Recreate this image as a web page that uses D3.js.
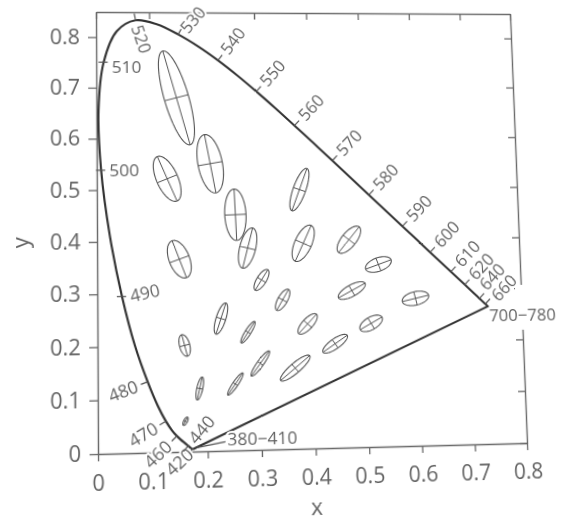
<!DOCTYPE html>
<html>
<head>
<meta charset="utf-8">
<script src="https://cdn.jsdelivr.net/npm/d3@7"></script>
<style>
  html, body { margin: 0; padding: 0; background: #fff; }
  #chart { display: block; transform-origin: 0 0; overflow: visible; }
  text { font-family: "Open Sans", "Noto Sans", sans-serif; fill: #636363; }
</style>
</head>
<body>
<svg id="chart" width="575" height="520"></svg>
<script>
// CIE 1931 2° spectral locus (chromaticity x, y by wavelength in nm)
const wavelengths = [380,385,390,395,400,405,410,415,420,425,430,435,440,445,450,455,460,465,470,475,
  480,485,490,495,500,505,510,515,520,525,530,535,540,545,550,555,560,565,570,575,580,585,590,595,
  600,605,610,615,620,625,630,635,640,645,650,655,660,665,670,675,680,690,700,780];
const locusX = [0.1741,0.1740,0.1738,0.1736,0.1733,0.1730,0.1726,0.1721,0.1714,0.1703,0.1689,0.1669,0.1644,0.1611,0.1566,0.1510,0.1440,0.1355,0.1241,0.1096,
  0.0913,0.0687,0.0454,0.0235,0.0082,0.0039,0.0139,0.0389,0.0743,0.1142,0.1547,0.1929,0.2296,0.2658,0.3016,0.3373,0.3731,0.4087,0.4441,0.4788,0.5125,0.5448,0.5752,0.6029,
  0.6270,0.6482,0.6658,0.6801,0.6915,0.7006,0.7079,0.7140,0.7190,0.7230,0.7260,0.7283,0.7300,0.7311,0.7320,0.7327,0.7334,0.7344,0.7347,0.7347];
const locusY = [0.0050,0.0050,0.0049,0.0049,0.0048,0.0048,0.0048,0.0048,0.0051,0.0058,0.0069,0.0086,0.0109,0.0138,0.0177,0.0227,0.0297,0.0399,0.0578,0.0868,
  0.1327,0.2007,0.2950,0.4127,0.5384,0.6548,0.7502,0.8120,0.8338,0.8262,0.8059,0.7816,0.7543,0.7243,0.6923,0.6589,0.6245,0.5896,0.5547,0.5202,0.4866,0.4544,0.4242,0.3965,
  0.3725,0.3514,0.3340,0.3197,0.3083,0.2993,0.2920,0.2859,0.2809,0.2770,0.2740,0.2717,0.2700,0.2689,0.2680,0.2673,0.2666,0.2656,0.2653,0.2653];

// Wavelengths marked with a tick and a label on the locus
const markedWavelengths = [420,440,460,470,480,490,500,510,520,530,540,550,560,570,580,590,600,610,620,640,660];
const markedLabels = ["420","440","460","470","480","490","500","510","520","530","540","550","560","570","580","590","600","610","620","640","660"];
const startLabel = "380−410";
const endLabel = "700−780";

// MacAdam (1942) ellipses: centre (x, y), semi-axes a, b (×10⁻³), orientation θ (deg)
const ellipseX = [0.160,0.187,0.253,0.150,0.131,0.212,0.258,0.152,0.280,0.380,0.160,0.228,0.305,0.385,0.472,0.527,0.475,0.510,0.596,0.344,0.390,0.441,0.278,0.300,0.365];
const ellipseY = [0.057,0.118,0.125,0.680,0.521,0.550,0.450,0.365,0.385,0.498,0.200,0.250,0.323,0.393,0.399,0.350,0.300,0.236,0.283,0.284,0.237,0.198,0.223,0.163,0.153];
const ellipseA = [0.85,2.2,2.5,9.6,4.7,5.8,5.0,3.8,4.0,4.4,2.1,3.1,2.3,3.8,3.2,2.6,2.9,2.4,2.6,2.3,2.5,2.8,2.4,2.9,3.6];
const ellipseB = [0.35,0.55,0.5,2.3,2.0,2.3,2.0,1.9,1.5,1.2,0.95,0.9,0.9,1.6,1.4,1.3,1.1,1.2,1.3,0.9,1.0,0.95,0.55,0.6,0.95];
const ellipseTheta = [62.5,77,55.5,105,112.5,100,92,110,75.5,70,104,72,58,65.5,51,20,28.5,29.5,13,60,47,34.5,57.5,54,40];
const ellipseMagnification = 10;

// Axis ticks
const xTicks = [0,0.1,0.2,0.3,0.4,0.5,0.6,0.7,0.8];
const yTicks = [0,0.1,0.2,0.3,0.4,0.5,0.6,0.7,0.8];
const xDomain = [0, 0.8];
const yDomain = [0, 0.85];

// ---------------------------------------------------------------------------
const L = 97, T = 13, R = 518, B = 449;
const svg = d3.select("#chart");
const x = d3.scaleLinear().domain(xDomain).range([L, R]);
const y = d3.scaleLinear().domain(yDomain).range([B, T]);

const axisColor = "#6a6a6a";
const fmt = d => d === 0 ? "0" : d.toFixed(1);

function styleAxis(g) {
  g.selectAll("path.domain").attr("stroke", axisColor).attr("stroke-width", 1.4);
  g.selectAll(".tick line").attr("stroke", axisColor).attr("stroke-width", 1.3);
  g.selectAll(".tick text").attr("font-size", 21).attr("fill", "#636363")
    .style("font-family", '"Open Sans","Noto Sans",sans-serif');
}

svg.append("g").attr("transform", `translate(0,${B})`)
  .call(d3.axisBottom(x).tickValues(xTicks).tickSize(7).tickSizeOuter(0).tickPadding(13).tickFormat(fmt))
  .call(styleAxis);
svg.append("g").attr("transform", `translate(${L},0)`)
  .call(d3.axisLeft(y).tickValues(yTicks).tickSize(8).tickSizeOuter(0).tickPadding(8).tickFormat(fmt))
  .call(styleAxis);
svg.append("g").attr("transform", `translate(0,${T})`)
  .call(d3.axisTop(x).tickValues(xTicks).tickSize(-7).tickSizeOuter(0).tickFormat(""))
  .call(styleAxis);
svg.append("g").attr("transform", `translate(${R},0)`)
  .call(d3.axisRight(y).tickValues(yTicks).tickSize(-7).tickSizeOuter(0).tickFormat(""))
  .call(styleAxis);

// axis titles
svg.append("text").attr("x", x(0.4)).attr("y", B + 64).attr("text-anchor", "middle")
  .attr("font-size", 22).text("x");
svg.append("text").attr("transform", `translate(${L - 74},${y(0.4)}) rotate(-90)`)
  .attr("text-anchor", "middle").attr("dy", "0.35em").attr("font-size", 22).text("y");

// spectral locus, closed by the line of purples
const idx = d3.range(wavelengths.length);
const locusLine = d3.line().x(i => x(locusX[i])).y(i => y(locusY[i])).curve(d3.curveCatmullRom.alpha(0.5));
svg.append("path").attr("d", locusLine(idx) + "Z")
  .attr("fill", "none").attr("stroke", "#333").attr("stroke-width", 2.1).attr("stroke-linejoin", "round");

// MacAdam ellipses with their principal axes
const eg = svg.append("g").attr("fill", "none").attr("stroke", "#555");
ellipseX.forEach((cx, k) => {
  const cy = ellipseY[k];
  const a = ellipseA[k] * 1e-3 * ellipseMagnification;
  const b = ellipseB[k] * 1e-3 * ellipseMagnification;
  const th = ellipseTheta[k] * Math.PI / 180;
  const c = Math.cos(th), s = Math.sin(th);
  const pts = d3.range(0, 360, 4).map(t => {
    const r = t * Math.PI / 180;
    return [cx + a * c * Math.cos(r) - b * s * Math.sin(r), cy + a * s * Math.cos(r) + b * c * Math.sin(r)];
  });
  eg.append("path")
    .attr("d", d3.line().x(p => x(p[0])).y(p => y(p[1])).curve(d3.curveLinearClosed)(pts))
    .attr("stroke-width", 1.1);
  eg.append("line")
    .attr("x1", x(cx - a * c)).attr("y1", y(cy - a * s))
    .attr("x2", x(cx + a * c)).attr("y2", y(cy + a * s)).attr("stroke-width", 1);
  eg.append("line")
    .attr("x1", x(cx + b * s)).attr("y1", y(cy - b * c))
    .attr("x2", x(cx - b * s)).attr("y2", y(cy + b * c)).attr("stroke-width", 1);
});

// wavelength ticks and labels
const labelStyle = {
  420: { side: "out", rotate: -42, off: 3 },
  440: { side: "in" },
  490: { side: "across", rotate: -12 },
  500: { side: "across", rotate: 0 },
  510: { side: "across", rotate: 0, shift: 5 },
  520: { side: "in", rotate: 72 },
  530: { side: "out", rotate: -50, off: 6, slide: 3 },
  640: { side: "out", slide: -5 },
  660: { side: "out", slide: 3 }
};
const tickLen = 7, gap = 3.5, labelSize = 17;
const wg = svg.append("g");
const halo = (sel, w = 4) => sel.attr("stroke", "#fff").attr("stroke-width", w)
  .attr("stroke-linejoin", "round").attr("paint-order", "stroke").attr("font-size", labelSize);

function pointAt(w) {
  const i = wavelengths.indexOf(w);
  return { i, px: x(locusX[i]), py: y(locusY[i]) };
}

markedWavelengths.forEach((w, k) => {
  const { i, px, py } = pointAt(w);
  const i0 = Math.max(0, i - 1), i1 = Math.min(wavelengths.length - 1, i + 1);
  let tx = x(locusX[i1]) - x(locusX[i0]), ty = y(locusY[i1]) - y(locusY[i0]);
  const tl = Math.hypot(tx, ty); tx /= tl; ty /= tl;
  const nx = ty, ny = -tx;                     // outward normal
  const st = labelStyle[w] || { side: "out" };
  const text = markedLabels[k];

  if (st.side === "across") {
    wg.append("line").attr("x1", px - 5).attr("y1", py).attr("x2", px + 4).attr("y2", py)
      .attr("stroke", "#555").attr("stroke-width", 1.2);
    const lx = px + 8, ly = py + (st.shift || 0);
    wg.append("text").attr("transform", `translate(${lx},${ly}) rotate(${st.rotate})`)
      .attr("dy", "0.35em").call(halo).text(text);
    return;
  }
  wg.append("line").attr("x1", px).attr("y1", py)
    .attr("x2", px + nx * tickLen).attr("y2", py + ny * tickLen)
    .attr("stroke", "#555").attr("stroke-width", 1.2);
  let dx, dy, off;
  if (st.side === "in") { dx = -nx; dy = -ny; off = gap + 2; }
  else { dx = nx; dy = ny; off = tickLen + gap; }
  if (st.off !== undefined) off = st.off;
  const slide = st.slide || 0;
  const lx = px + dx * off + tx * slide, ly = py + dy * off + ty * slide;
  let ang = Math.atan2(dy, dx) * 180 / Math.PI;
  let anchor = "start";
  if (Math.cos(ang * Math.PI / 180) < 0) { ang += 180; anchor = "end"; }
  if (st.rotate !== undefined) ang = st.rotate;
  const thin = (w >= 610);
  wg.append("text").attr("transform", `translate(${lx},${ly}) rotate(${ang})`)
    .attr("dy", "0.35em").attr("text-anchor", anchor).call(halo, thin ? 0 : 4).text(text);
});

// ends of the locus
{
  const p = pointAt(380);
  wg.append("line").attr("x1", p.px + 3).attr("y1", p.py - 1).attr("x2", p.px + 31).attr("y2", p.py - 6)
    .attr("stroke", "#555").attr("stroke-width", 1.2);
  wg.append("text").attr("x", p.px + 33).attr("y", p.py - 8).attr("dy", "0.35em")
    .call(halo).text(startLabel);
}
{
  const p = pointAt(700);
  const t = wg.append("text").attr("x", p.px + 1).attr("y", p.py + 9).attr("dy", "0.35em")
    .call(halo).text(endLabel);
  const bb = t.node().getBBox();
  // clear the frame line where the label crosses it
  wg.insert("rect", () => t.node())
    .attr("x", R - 6).attr("y", bb.y - 18).attr("width", 12).attr("height", bb.height + 22)
    .attr("fill", "#fff");
}

// page photographed slightly off-axis: project the flat chart onto that quad
(function applyPerspective() {
  const quad = [[96, 12], [510, 14], [527, 443], [98, 454]];
  const [[x0, y0], [x1, y1], [x2, y2], [x3, y3]] = quad;
  const dx1 = x1 - x2, dx2 = x3 - x2, dx3 = x0 - x1 + x2 - x3;
  const dy1 = y1 - y2, dy2 = y3 - y2, dy3 = y0 - y1 + y2 - y3;
  const den = dx1 * dy2 - dx2 * dy1;
  const g = (dx3 * dy2 - dx2 * dy3) / den;
  const h = (dx1 * dy3 - dx3 * dy1) / den;
  const a = x1 - x0 + g * x1, b = x3 - x0 + h * x3, c = x0;
  const d = y1 - y0 + g * y1, e = y3 - y0 + h * y3, f = y0;
  const W = R - L, H = B - T;
  const m00 = a / W, m01 = b / H, m02 = -a * L / W - b * T / H + c;
  const m10 = d / W, m11 = e / H, m12 = -d * L / W - e * T / H + f;
  const m20 = g / W, m21 = h / H, m22 = -g * L / W - h * T / H + 1;
  document.getElementById("chart").style.transform =
    `matrix3d(${m00},${m10},0,${m20},${m01},${m11},0,${m21},0,0,1,0,${m02},${m12},0,${m22})`;
})();
</script>
</body>
</html>
